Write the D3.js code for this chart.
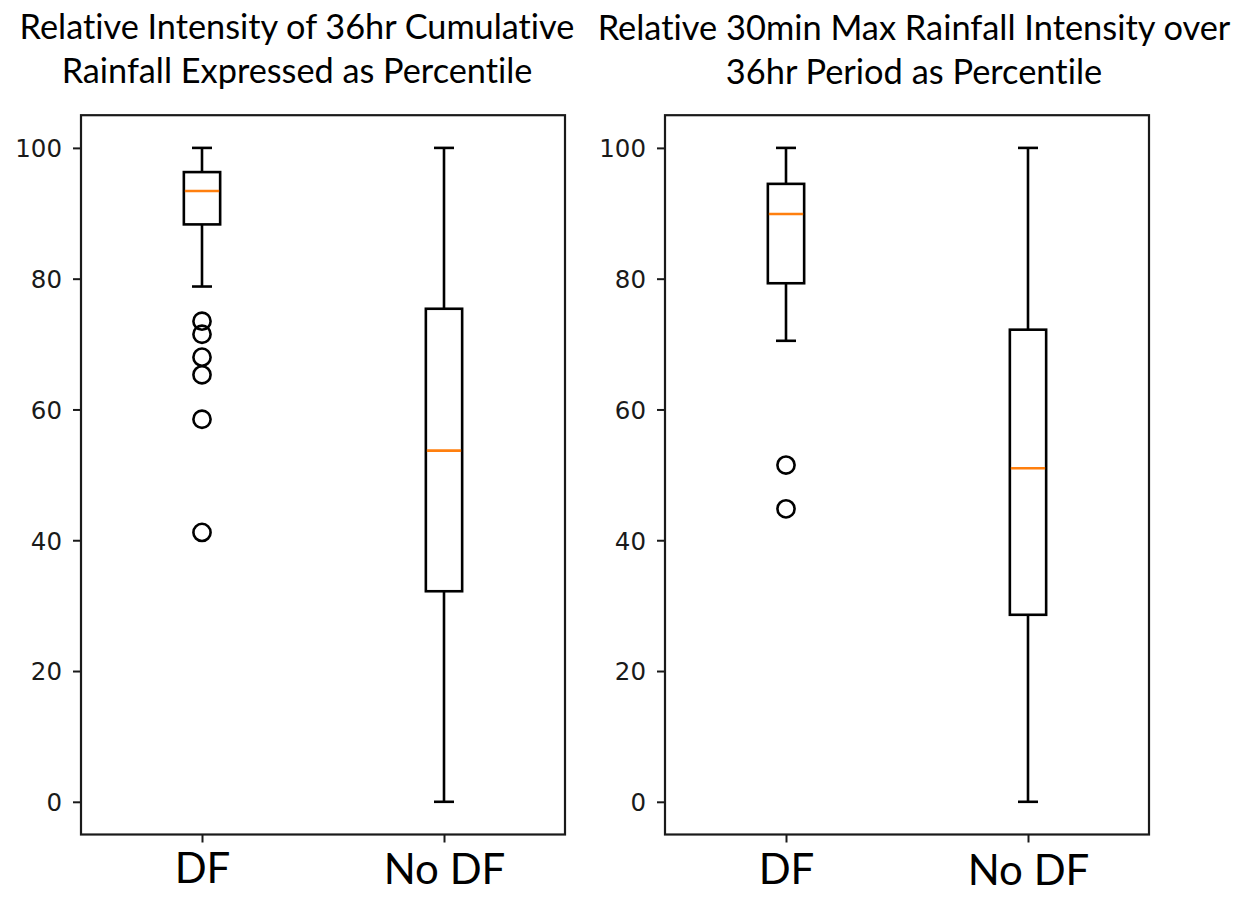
<!DOCTYPE html>
<html>
<head>
<meta charset="utf-8">
<script src="https://cdn.jsdelivr.net/npm/d3@7"></script>
<style>
  html, body { margin: 0; padding: 0; background: #fff; }
  svg { display: block; }
  text { font-variant-ligatures: none; font-feature-settings: "liga" 0; }
</style>
</head>
<body>
<svg id="chart" width="1238" height="897"></svg>
<script>
// ---- Data ----
const categories = ["DF", "No DF"];
const yTicks = [0, 20, 40, 60, 80, 100];

const titleCumulative = ["Relative Intensity of 36hr Cumulative", "Rainfall Expressed as Percentile"];
const titleMax30 = ["Relative 30min Max Rainfall Intensity over", "36hr Period as Percentile"];

// box stats: [whiskerLow, q1, median, q3, whiskerHigh]
const cumulativeDF = [78.8, 88.3, 93.4, 96.3, 100];
const cumulativeNoDF = [0, 32.2, 53.7, 75.4, 100];
const cumulativeDFOutliers = [73.5, 71.5, 68.0, 65.3, 58.5, 41.2];
const cumulativeNoDFOutliers = [];

const max30DF = [70.5, 79.3, 89.9, 94.5, 100];
const max30NoDF = [0, 28.6, 51.0, 72.2, 100];
const max30DFOutliers = [51.5, 44.8];
const max30NoDFOutliers = [];

const panels = [
  { title: titleCumulative, boxes: [cumulativeDF, cumulativeNoDF], outliers: [cumulativeDFOutliers, cumulativeNoDFOutliers],
    x0: 81, x1: 565, titleX: 297, titleY: [39, 83], titleW: 555, xLabelDy: [0, 1] },
  { title: titleMax30, boxes: [max30DF, max30NoDF], outliers: [max30DFOutliers, max30NoDFOutliers],
    x0: 665, x1: 1149, titleX: 914, titleY: [40, 84], titleW: 633, xLabelDy: [1, 2] }
];

const svg = d3.select("#chart");
const yTop = 115.2, yBottom = 834.5;
const y = d3.scaleLinear().domain([-5, 105]).range([yBottom, yTop]);

const boxHalf = 0.075, capHalf = 0.0375 * 1.1;
const lineW = 2.6;

panels.forEach(p => {
  const x = d3.scaleLinear().domain([0.5, 2.5]).range([p.x0, p.x1]);
  const g = svg.append("g");

  // y axis
  const yAxis = d3.axisLeft(y).tickValues(yTicks).tickSize(8).tickPadding(11).tickFormat(d3.format("d"));
  const ya = g.append("g").attr("transform", `translate(${p.x0},0)`).call(yAxis);
  ya.select(".domain").remove();
  ya.selectAll(".tick line").attr("stroke", "#1a1a1a").attr("stroke-width", 2);
  ya.selectAll(".tick text").attr("font-family", "DejaVu Sans").attr("font-size", 24.5).attr("fill", "#1a1a1a").attr("dy", "0.36em");

  // x axis
  const xAxis = d3.axisBottom(x).tickValues([1, 2]).tickSize(8).tickPadding(9).tickFormat((d, i) => categories[i]);
  const xa = g.append("g").attr("transform", `translate(0,${yBottom})`).call(xAxis);
  xa.select(".domain").remove();
  xa.selectAll(".tick line").attr("stroke", "#1a1a1a").attr("stroke-width", 2);
  xa.selectAll(".tick text").attr("font-family", "Lato, 'Open Sans', sans-serif").attr("font-size", 42).attr("fill", "#000")
    .attr("dy", "0.75em").attr("transform", (d, i) => `translate(0,${p.xLabelDy[i]})`);

  // frame
  g.append("rect").attr("x", p.x0).attr("y", yTop).attr("width", p.x1 - p.x0).attr("height", yBottom - yTop)
    .attr("fill", "none").attr("stroke", "#1a1a1a").attr("stroke-width", 2.2);

  // boxes
  p.boxes.forEach((b, i) => {
    const c = x(i + 1);
    const bh = x(i + 1 + boxHalf) - c;
    const ch = x(i + 1 + capHalf) - c;
    const bg = g.append("g").attr("stroke", "#000").attr("stroke-width", lineW).attr("fill", "none");
    bg.append("line").attr("x1", c).attr("x2", c).attr("y1", y(b[0])).attr("y2", y(b[1]));
    bg.append("line").attr("x1", c).attr("x2", c).attr("y1", y(b[3])).attr("y2", y(b[4]));
    bg.append("line").attr("x1", c - ch).attr("x2", c + ch).attr("y1", y(b[0])).attr("y2", y(b[0]));
    bg.append("line").attr("x1", c - ch).attr("x2", c + ch).attr("y1", y(b[4])).attr("y2", y(b[4]));
    bg.append("rect").attr("x", c - bh).attr("y", y(b[3])).attr("width", 2 * bh).attr("height", y(b[1]) - y(b[3]));
    g.append("line").attr("x1", c - bh + 1).attr("x2", c + bh - 1).attr("y1", y(b[2])).attr("y2", y(b[2]))
      .attr("stroke", "#ff7f0e").attr("stroke-width", lineW);
    g.selectAll(null).data(p.outliers[i]).enter().append("circle")
      .attr("cx", c).attr("cy", d => y(d)).attr("r", 8.6)
      .attr("fill", "none").attr("stroke", "#000").attr("stroke-width", lineW);
  });

  // title
  const tg = g.append("g").attr("font-family", "Lato, 'Open Sans', sans-serif").attr("fill", "#000").attr("text-anchor", "middle");
  const t1 = tg.append("text").attr("x", p.titleX).attr("y", p.titleY[0]).attr("font-size", 30).text(p.title[0]);
  const w = t1.node().getComputedTextLength();
  const fs = 30 * p.titleW / w;
  t1.attr("font-size", fs);
  tg.append("text").attr("x", p.titleX).attr("y", p.titleY[1]).attr("font-size", fs).text(p.title[1]);
});
</script>
</body>
</html>
